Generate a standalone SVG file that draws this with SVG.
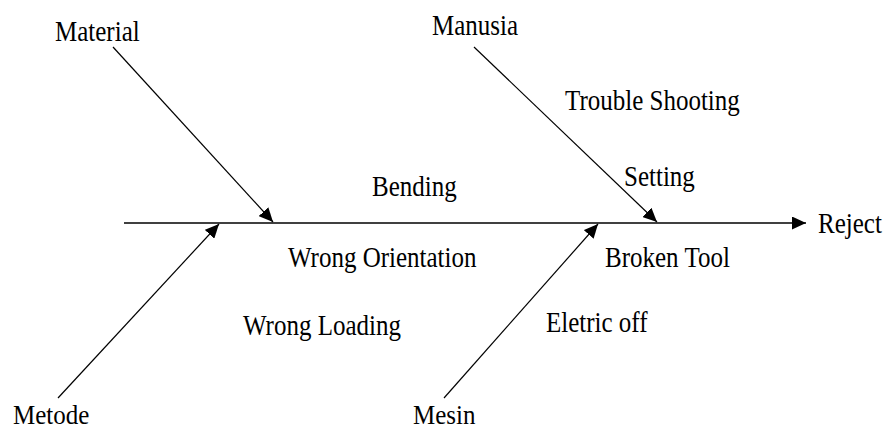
<svg xmlns="http://www.w3.org/2000/svg" width="888" height="430" viewBox="0 0 888 430">
<defs>
<style>
text{font-family:"Liberation Serif","Times New Roman",serif;font-size:25px;fill:#000}
.ln{stroke:#000;stroke-width:1.2;fill:none;marker-end:url(#ah)}
.sp{stroke:#000;stroke-width:1.6;fill:none;marker-end:url(#ah)}
</style>
<marker id="ah" markerUnits="userSpaceOnUse" markerWidth="14" markerHeight="13" refX="14" refY="6.5" orient="auto">
<path d="M0,0 L14,6.5 L0,13 Z" fill="#000"/>
</marker>
</defs>
<rect width="888" height="430" fill="#fff"/>
<g id="connectors">
<line class="sp" x1="124" y1="223" x2="806" y2="223"/>
<line class="ln" x1="113" y1="47" x2="273" y2="222"/>
<line class="ln" x1="474" y1="47" x2="657" y2="222"/>
<line class="ln" x1="58" y1="398" x2="219" y2="224"/>
<line class="ln" x1="444" y1="398" x2="598" y2="224"/>
</g>
<g id="reject"><text transform="translate(818,233) scale(1,1.15)">Reject</text></g>
<g id="material"><text transform="translate(55,41) scale(1,1.15)">Material</text></g>
<g id="manusia"><text transform="translate(432,35) scale(1,1.15)">Manusia</text></g>
<g id="metode"><text transform="translate(13,423.5) scale(1,1.12)">Metode</text></g>
<g id="mesin"><text transform="translate(413,423.5) scale(1,1.12)">Mesin</text></g>
<g id="bending"><text transform="translate(372,196) scale(1,1.15)">Bending</text></g>
<g id="wrong-orientation"><text transform="translate(288,267) scale(1,1.15)">Wrong Orientation</text></g>
<g id="wrong-loading"><text transform="translate(243,335) scale(1,1.15)">Wrong Loading</text></g>
<g id="trouble-shooting"><text transform="translate(565,110) scale(1,1.15)">Trouble Shooting</text></g>
<g id="setting"><text transform="translate(624,186) scale(1,1.15)">Setting</text></g>
<g id="broken-tool"><text transform="translate(605,267) scale(1,1.15)">Broken Tool</text></g>
<g id="eletric-off"><text transform="translate(546,332) scale(1,1.15)">Eletric off</text></g>
</svg>
